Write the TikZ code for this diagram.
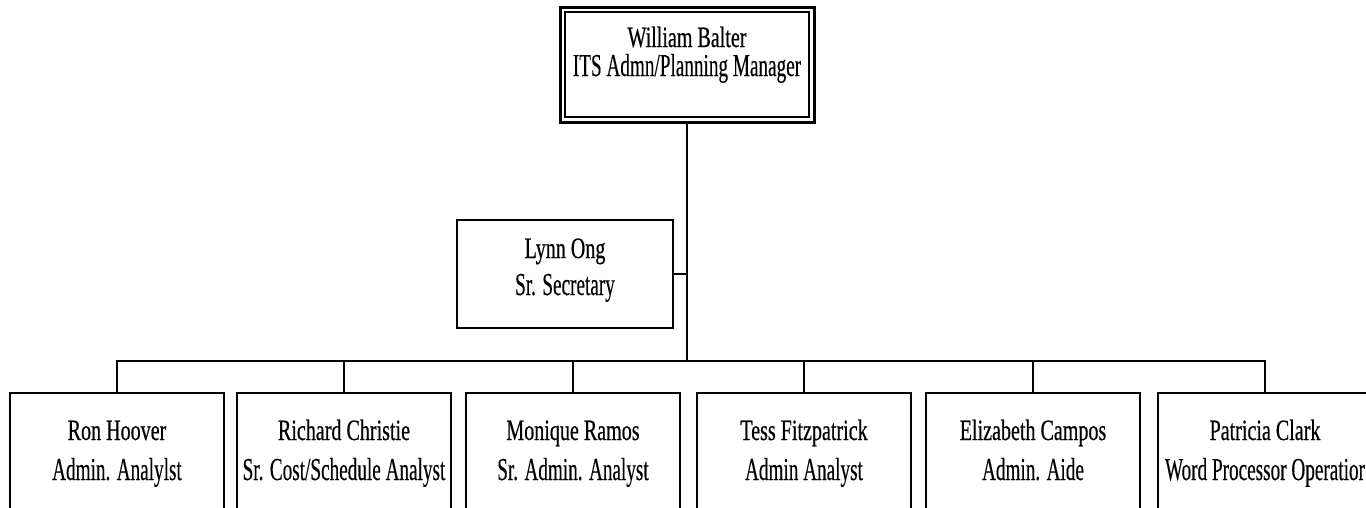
\documentclass[tikz,border=0pt]{standalone}
\usepackage{fontspec}
\setmainfont{Liberation Serif}[FakeStretch=0.6, FakeBold=0.3]
\newfontfamily\namefont{Liberation Serif}[FakeStretch=0.68, FakeBold=0.5]
\begin{document}
\begin{tikzpicture}[x=1pt,y=-1pt,
  box/.style={draw, line width=1.6pt, inner sep=0pt, outer sep=0pt, anchor=north west, minimum width=214pt},
  link/.style={line width=1.4pt},
  nm/.style={anchor=base, inner sep=0pt, font=\namefont\fontsize{29.5}{32}\selectfont},
  tt/.style={anchor=base, inner sep=0pt, font=\fontsize{32}{35}\selectfont}]
\useasboundingbox (0,0) rectangle (1366,507);
\clip (0,0) rectangle (1366,507);
% top box (double border)
\node[box, line width=3pt, minimum width=254pt, minimum height=115pt] (top) at (560,7) {};
\draw[line width=1.5pt] ([shift={(5,5)}]top.north west) rectangle ([shift={(-5,-5)}]top.south east);
\node[nm] (topn) at (687,47) {William Balter};
\node[tt] (topt) at (687,76) {ITS Admn/Planning Manager};
% secretary
\node[box, minimum width=216pt, minimum height=108pt] (lynn) at (457,220) {};
\node[nm] (lynnn) at (565,258) {Lynn Ong};
\node[tt] (lynnt) at (565,295) {Sr. Secretary};
% staff boxes
\node[box, minimum height=140pt] (b1) at (10,393) {};
\node[box, minimum height=140pt] (b2) at (237,393) {};
\node[box, minimum height=140pt] (b3) at (466,393) {};
\node[box, minimum height=140pt] (b4) at (697,393) {};
\node[box, minimum height=140pt] (b5) at (926,393) {};
\node[box, minimum height=140pt] (b6) at (1158,393) {};
\node[nm] (n1) at (b1.north |- 0,440) {Ron Hoover};
\node[tt] (t1) at (b1.north |- 0,480) {Admin. Analylst};
\node[nm] (n2) at (b2.north |- 0,440) {Richard Christie};
\node[tt] (t2) at (b2.north |- 0,480) {Sr. Cost/Schedule Analyst};
\node[nm] (n3) at (b3.north |- 0,440) {Monique Ramos};
\node[tt] (t3) at (b3.north |- 0,480) {Sr. Admin. Analyst};
\node[nm] (n4) at (b4.north |- 0,440) {Tess Fitzpatrick};
\node[tt] (t4) at (b4.north |- 0,480) {Admin Analyst};
\node[nm] (n5) at (b5.north |- 0,440) {Elizabeth Campos};
\node[tt] (t5) at (b5.north |- 0,480) {Admin. Aide};
\node[nm] (n6) at (b6.north |- 0,440) {Patricia Clark};
\node[tt] (t6) at (b6.north |- 0,480) {Word Processor Operatior};
% connectors
\coordinate (bus) at (687,361);
\draw[link] (top.south) -- (bus);
\draw[link] (lynn.east) -- (lynn.east -| top.south);
\draw[link] (b1.north) |- (bus) -| (b6.north);
\foreach \b in {b2,b3,b4,b5} \draw[link] (\b.north) -- (\b.north |- bus);
\end{tikzpicture}
\end{document}
